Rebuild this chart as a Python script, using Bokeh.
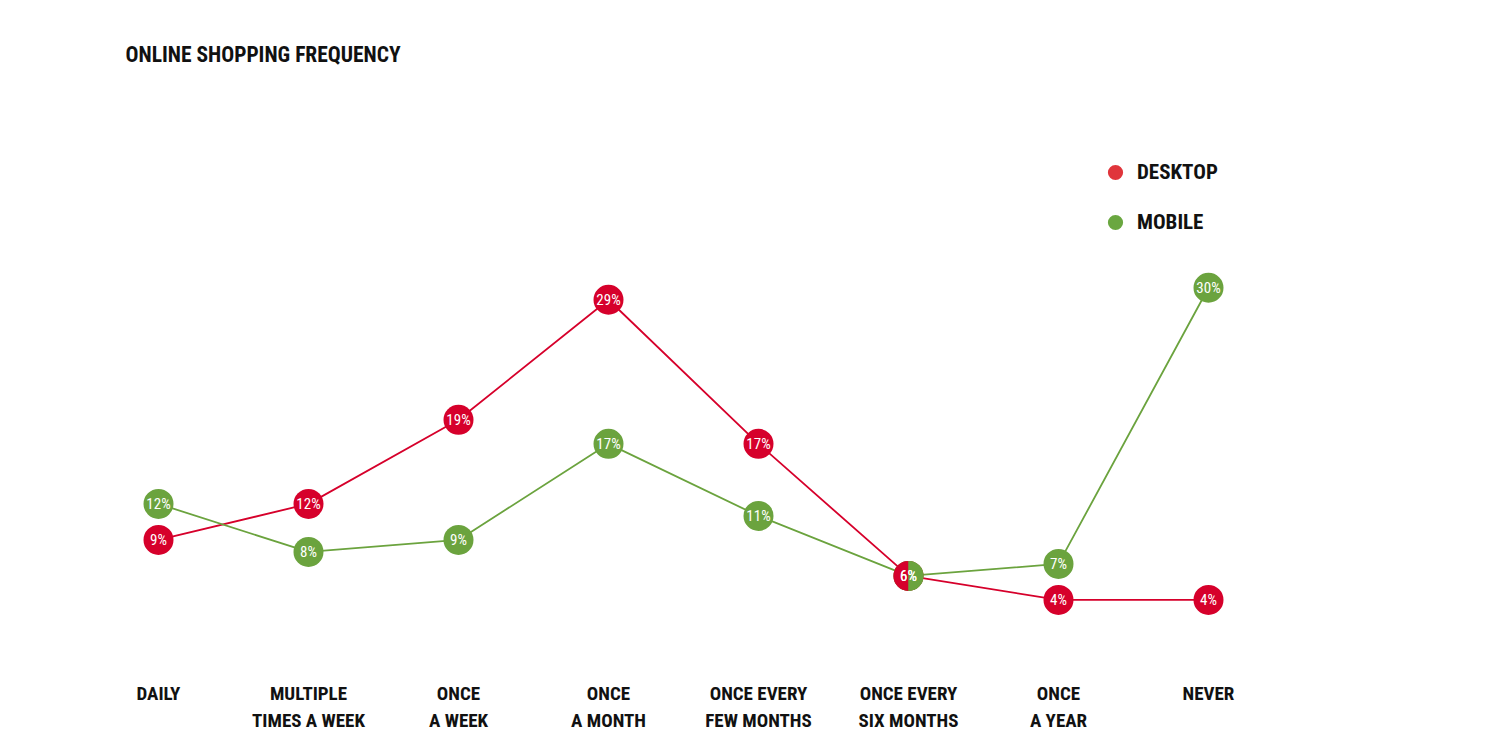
import math
from bokeh.plotting import figure
from bokeh.embed import file_html
from bokeh.resources import INLINE
from bokeh.core.properties import value
from bokeh.models import (ColumnDataSource, Label, Legend, LegendItem,
                          FixedTicker, Range1d)

# ---- data ----
categories = ["DAILY", "MULTIPLE\nTIMES A WEEK", "ONCE\nA WEEK", "ONCE\nA MONTH",
              "ONCE EVERY\nFEW MONTHS", "ONCE EVERY\nSIX MONTHS", "ONCE\nA YEAR", "NEVER"]
desktop = [9, 12, 19, 29, 17, 6, 4, 4]
mobile = [12, 8, 9, 17, 11, 6, 7, 30]
series_names = ["DESKTOP", "MOBILE"]
title_text = "ONLINE SHOPPING FREQUENCY"

# ---- style ----
RED = "#d6002b"
GREEN = "#6ba33e"
RED_LEG = "#e0353b"
GREEN_LEG = "#6aa740"
FONT = "Roboto Condensed"

W, H = 1485, 735
X0 = -158 / 150.0
p = figure(width=W, height=H, output_backend="svg", toolbar_location=None,
           x_range=Range1d(X0, X0 + W / 150.0), y_range=Range1d(-0.46, 53.92),
           min_border_left=0, min_border_right=0, min_border_top=0, min_border_bottom=78,
           outline_line_color=None)
p.yaxis.visible = False
p.grid.visible = False

xs = list(range(len(categories)))
src_d = ColumnDataSource(dict(x=xs, y=desktop, lab=[f"{v}%" for v in desktop]))
src_m = ColumnDataSource(dict(x=xs, y=mobile, lab=[f"{v}%" for v in mobile]))

p.line("x", "y", source=src_d, line_color=RED, line_width=1.8)
p.line("x", "y", source=src_m, line_color=GREEN, line_width=1.8)
p.scatter("x", "y", source=src_d, size=30, fill_color=RED, line_color=None)
p.scatter("x", "y", source=src_m, size=30, fill_color=GREEN, line_color=None)

# points where both series coincide: split circle (red left, green right)
same = [i for i in xs if desktop[i] == mobile[i]]
src_s = ColumnDataSource(dict(x=[xs[i] for i in same], y=[desktop[i] for i in same]))
p.wedge("x", "y", source=src_s, radius=15, radius_units="screen",
        start_angle=math.pi / 2, end_angle=3 * math.pi / 2,
        fill_color=RED, line_color=None)
p.wedge("x", "y", source=src_s, radius=15, radius_units="screen",
        start_angle=-math.pi / 2, end_angle=math.pi / 2,
        fill_color=GREEN, line_color=None)

for src in (src_d, src_m):
    p.text("x", "y", text="lab", source=src, text_color="white",
           text_font=value(FONT), text_font_size="15px",
           text_align="center", text_baseline="middle")

# x axis with category labels
ax = p.xaxis[0]
ax.ticker = FixedTicker(ticks=xs)
ax.major_label_overrides = {i: c for i, c in enumerate(categories)}
ax.axis_line_color = None
ax.major_tick_line_color = None
ax.minor_tick_line_color = None
ax.major_label_text_font = FONT
ax.major_label_text_font_style = "bold"
ax.major_label_text_font_size = "19px"
ax.major_label_text_color = "#111111"
ax.major_label_standoff = 22

# title
p.add_layout(Label(x=X0 + 125 / 150.0, y=49.45, text=title_text, text_font=FONT,
                   text_font_style="bold", text_font_size="21.5px",
                   text_color="#111111", text_baseline="alphabetic"))

# legend
leg_src = ColumnDataSource(dict(x=[float("nan")], y=[float("nan")]))
r_ld = p.scatter("x", "y", source=leg_src, size=15, fill_color=RED_LEG, line_color=None)
r_lm = p.scatter("x", "y", source=leg_src, size=15, fill_color=GREEN_LEG, line_color=None)
legend = Legend(items=[LegendItem(label=series_names[0], renderers=[r_ld]),
                       LegendItem(label=series_names[1], renderers=[r_lm])],
                location=(1096, 412), padding=0, margin=0, spacing=12,
                glyph_width=38, glyph_height=38, label_standoff=3,
                label_text_font=FONT, label_text_font_style="bold",
                label_text_font_size="21px", label_text_color="#111111",
                border_line_color=None, background_fill_alpha=0)
p.add_layout(legend)

open("out.html", "w").write(file_html(p, INLINE))
